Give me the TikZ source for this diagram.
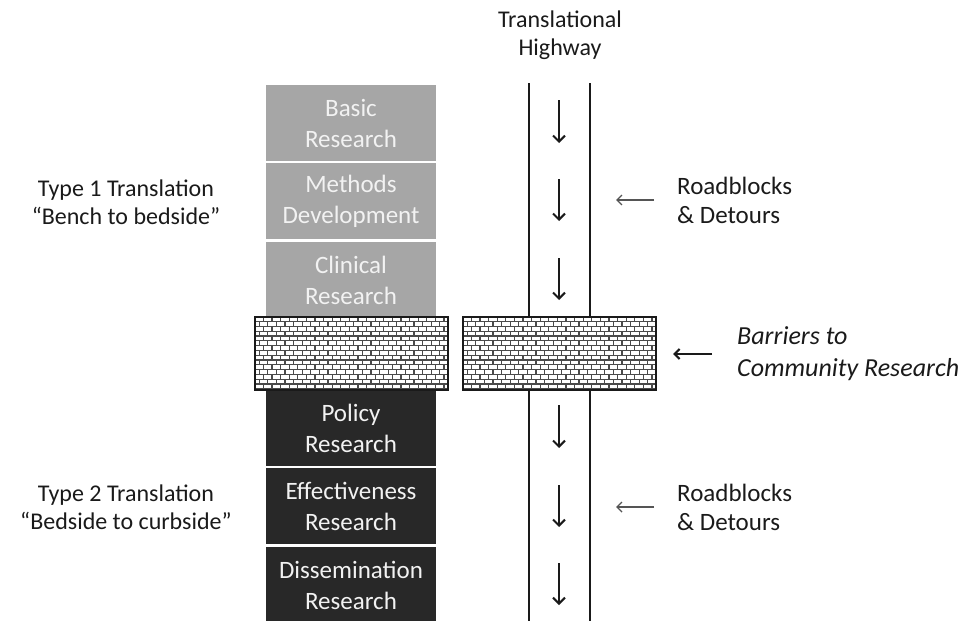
\documentclass[tikz,border=0pt]{standalone}
\usepackage{fontspec}
\setmainfont{Carlito}
\usepackage{tikz}
\usetikzlibrary{arrows.meta}
\definecolor{lightbox}{HTML}{A6A6A6}
\definecolor{darkbox}{HTML}{282828}
\definecolor{boxtext}{HTML}{F2F2F2}
\definecolor{ink}{HTML}{1A1A1A}
\definecolor{mortar}{HTML}{4A4A4A}
\definecolor{soft}{HTML}{555555}
\tikzset{
  stage/.style={minimum width=170pt, minimum height=76pt, inner sep=0pt,
    align=center, text=boxtext, font=\fontsize{25}{31}\selectfont},
  early/.style={stage, fill=lightbox},
  late/.style={stage, fill=darkbox},
  wall/.style={minimum width=193pt, minimum height=73pt, inner sep=0pt, fill=white},
  wallline/.style={draw=ink, line width=2pt},
  lane/.style={draw=ink, line width=1.6pt},
  flow/.style={draw=ink, line width=2pt, -{Straight Barb[length=6pt,width=12pt,line width=2pt]}},
  detour/.style={draw=soft, line width=1.4pt, -{Straight Barb[length=5pt,width=10pt]}},
  block/.style={draw=ink, line width=2.6pt, -{Straight Barb[length=5pt,width=10pt,line width=2.2pt]}},
  lab/.style={text=ink, align=center, font=\fontsize{24}{28}\selectfont},
  labl/.style={lab, align=left, anchor=west, inner sep=0pt},
}

\begin{document}
\begin{tikzpicture}[x=1pt,y=-1pt]
  \useasboundingbox (0,0) rectangle (959,621);
  % the highway
  \coordinate (laneLtop) at (529,83);
  \coordinate (laneLbot) at (529,621);
  \coordinate (laneRtop) at (590,83);
  \coordinate (laneRbot) at (590,621);
  \draw[lane] (laneLtop) -- (laneLbot);
  \draw[lane] (laneRtop) -- (laneRbot);
  \node[lab] (highway) at (560,35) {Translational\\Highway};
  % stages of research
  \node[early] (basic)   at (351,123) {Basic\\Research};
  \node[early] (methods) at (351,201) {Methods\\Development};
  \node[early] (clinic)  at (351,280) {Clinical\\Research};
  \node[late]  (policy)  at (351,428) {Policy\\Research};
  \node[late]  (effect)  at (351,506) {Effectiveness\\Research};
  \node[late]  (dissem)  at (351,585) {Dissemination\\Research};
  % walls
  \node[wall] (wallL) at (351.5,353.5) {};
  \node[wall] (wallR) at (559.5,353.5) {};
  \foreach \W in {wallL,wallR}{
    \begin{scope}
      \clip (\W.north west) rectangle (\W.south east);
      \begin{scope}[shift={(\W.north west)}]
        \foreach \r in {0,...,15}{
          \draw[mortar, line width=1.2pt] (0,\r*4.8) -- (193,\r*4.8);
          \pgfmathsetmacro{\off}{mod(\r,2)*4.3}
          \foreach \c in {0,...,23}
            \draw[mortar, line width=1.2pt] (\c*8.6+\off,\r*4.8) -- (\c*8.6+\off,\r*4.8+4.8);
        }
      \end{scope}
    \end{scope}
    \draw[wallline] (\W.north west) rectangle (\W.south east);
  }
  % traffic along the highway
  \foreach \i/\a/\b in {1/100/143,2/179/221,3/258/300,4/405/448,5/485/527,6/563/605}{
    \coordinate (go\i) at (559,\a);
    \coordinate (stop\i) at (559,\b);
    \draw[flow] (go\i) -- (stop\i);
  }
  % side labels
  \node[lab] (type1) at (126,202) {Type 1 Translation\\``Bench to bedside''};
  \node[lab] (type2) at (126,507) {Type 2 Translation\\``Bedside to curbside''};
  \node[labl, font=\fontsize{25}{29}\selectfont] (road1) at (677,200) {Roadblocks\\\& Detours};
  \node[labl, font=\fontsize{25}{29}\selectfont] (road2) at (677,507) {Roadblocks\\\& Detours};
  \node[labl, font=\fontsize{26}{32}\selectfont\itshape] (barrier) at (737,354) {Barriers to\\Community Research};
  \coordinate (r1from) at ([xshift=-23pt]road1.west);
  \coordinate (r1to)   at ([xshift=-61pt]road1.west);
  \coordinate (r2from) at ([xshift=-23pt]road2.west);
  \coordinate (r2to)   at ([xshift=-61pt]road2.west);
  \coordinate (bfrom)  at ([xshift=-25pt]barrier.west);
  \coordinate (bto)    at ([xshift=-64pt]barrier.west);
  \draw[detour] (r1from) -- (r1to);
  \draw[detour] (r2from) -- (r2to);
  \draw[block] (bfrom) -- (bto);
\end{tikzpicture}
\end{document}
